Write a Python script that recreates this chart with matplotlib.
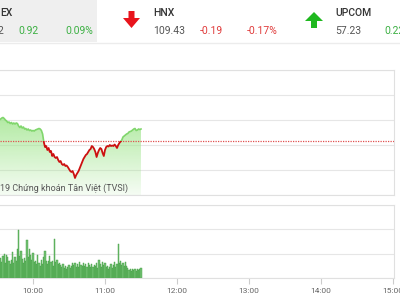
import numpy as np
import matplotlib
matplotlib.use("Agg")
import matplotlib.pyplot as plt
from matplotlib.patches import Polygon, Rectangle

plt.rcParams['font.family'] = ['Roboto', 'DejaVu Sans']

# intraday index (1 point per minute, 9:32 -> 11:30)
price = [
    981.00, 981.08, 981.16, 981.20, 981.12, 981.00, 980.92, 980.80, 980.84, 980.72,
    980.80, 980.68, 980.76, 980.68, 980.76, 980.72, 980.52, 980.40, 980.52, 980.36,
    980.44, 980.28, 980.32, 980.20, 980.28, 980.16, 980.20, 980.12, 980.16, 980.12,
    980.20, 980.24, 980.28, 980.32, 980.28, 980.16, 979.88, 979.24, 978.84, 978.92,
    978.60, 978.76, 978.44, 978.52, 978.12, 978.28, 978.04, 977.96, 978.04, 977.80,
    977.64, 977.72, 977.48, 977.40, 977.48, 977.32, 977.36, 977.24, 977.08, 976.92,
    976.84, 976.92, 976.68, 976.36, 976.60, 976.76, 976.92, 977.16, 977.40, 977.64,
    977.88, 978.04, 978.20, 978.28, 978.44, 978.60, 978.68, 978.92, 978.84, 978.68,
    978.44, 978.04, 978.36, 978.60, 978.76, 978.68, 978.36, 978.12, 978.60, 978.84,
    978.92, 978.88, 979.00, 978.92, 978.96, 978.92, 979.04, 978.92, 978.76, 979.00,
    979.16, 979.28, 979.40, 979.64, 979.72, 979.80, 979.88, 979.92, 980.04, 980.08,
    980.12, 980.20, 980.28, 980.32, 980.16, 980.20, 980.28, 980.24, 980.28,
]
volume = [
    700, 820, 650, 900, 1000, 600, 950, 880, 700, 560,
    760, 1050, 620, 850, 700, 1200, 1980, 900, 1100, 780,
    600, 820, 700, 1560, 850, 1200, 950, 760, 1040, 640,
    700, 560, 950, 600, 500, 720, 560, 870, 1100, 700,
    560, 680, 900, 640, 700, 500, 1600, 640, 760, 560,
    620, 520, 470, 560, 420, 500, 380, 460, 520, 430,
    480, 620, 520, 600, 470, 560, 440, 640, 540, 480,
    620, 500, 560, 460, 600, 520, 470, 560, 440, 520,
    480, 600, 420, 740, 560, 460, 640, 520, 600, 440,
    500, 380, 450, 580, 400, 520, 660, 470, 560, 1400,
    620, 700, 540, 600, 480, 640, 500, 420, 340, 360,
    300, 380, 320, 360, 300, 350, 320, 380, 400,
]
ref_price = 979.32
hour_ticks = [10, 11, 12, 13, 14, 15]
hour_labels = ["10:00", "11:00", "12:00", "13:00", "14:00", "15:00"]

minutes = np.arange(32, 32 + len(price))
t = 9 + minutes / 60.0
price = np.array(price)

XMIN, XMAX = 9 + 39 / 72, 9 + 433 / 72
W, H = 400, 300


def fx(x):
    return x / W


def fy(y):
    return 1 - y / H


fig = plt.figure(figsize=(4, 3), dpi=100)
fig.patch.set_facecolor("white")

# header strip
fig.add_artist(Rectangle((0, fy(42)), fx(97), 42 / H, transform=fig.transFigure,
                         color="#efefef", lw=0))
fig.add_artist(plt.Line2D([0, 1], [fy(43), fy(43)], transform=fig.transFigure,
                          color="#ececec", lw=1))

dark = "#333333"
green_t = "#3cb043"
red_t = "#e03c3c"
fs = 7.5
fig.text(fx(0), fy(13), "EX", fontsize=fs, color=dark, weight="medium", va="center")
fig.text(fx(-2), fy(31), "2", fontsize=fs, color="#555555", va="center")
fig.text(fx(18), fy(31), "0.92", fontsize=fs, color=green_t, va="center")
fig.text(fx(65), fy(31), "0.09%", fontsize=fs, color=green_t, va="center")

fig.text(fx(153), fy(13), "HNX", fontsize=fs, color=dark, weight="medium", va="center")
fig.text(fx(153), fy(31), "109.43", fontsize=fs, color="#555555", va="center")
fig.text(fx(200), fy(31), "-0.19", fontsize=fs, color=red_t, va="center")
fig.text(fx(247), fy(31), "-0.17%", fontsize=fs, color=red_t, va="center")

fig.text(fx(335), fy(13), "UPCOM", fontsize=fs, color=dark, weight="medium", va="center")
fig.text(fx(335), fy(31), "57.23", fontsize=fs, color="#555555", va="center")
fig.text(fx(384), fy(31), "0.22", fontsize=fs, color=green_t, va="center")

down = [(128.5, 11), (134.5, 11), (134.5, 18), (140, 18), (131.5, 28), (123, 18), (128.5, 18)]
up = [(311, 28), (317, 28), (317, 21), (323, 21), (314, 12), (305, 21), (311, 21)]
fig.add_artist(Polygon([(fx(a), fy(b)) for a, b in down], transform=fig.transFigure,
                       color="#e8141c", lw=0))
fig.add_artist(Polygon([(fx(a), fy(b)) for a, b in up], transform=fig.transFigure,
                       color="#1fb81f", lw=0))

# price panel
ax1 = fig.add_axes([0, fy(195), fx(394), 125 / H])
poly = ax1.fill_between(t, price, 975, color="none", lw=0)
grad = np.zeros((100, 1, 4))
grad[:, 0, :3] = matplotlib.colors.to_rgb("#9fe58c")
grad[:, 0, 3] = np.linspace(0.8, 0.1, 100)
im = ax1.imshow(grad, extent=[t[0], t[-1], 975, price.max()], aspect="auto",
                origin="upper", zorder=1)
im.set_clip_path(poly.get_paths()[0], transform=ax1.transData)

up_clip = Rectangle((XMIN, ref_price), XMAX - XMIN, 20, transform=ax1.transData)
dn_clip = Rectangle((XMIN, 960), XMAX - XMIN, ref_price - 960, transform=ax1.transData)
l1, = ax1.plot(t, price, color="#80d66c", lw=1.2, zorder=3)
l1.set_clip_path(up_clip)
l2, = ax1.plot(t, price, color="#cc1010", lw=1.3, zorder=3)
l2.set_clip_path(dn_clip)
ax1.axhline(ref_price, color="#e05050", lw=0.9, ls=(0, (1, 1)), zorder=2)

ax1.set_xlim(XMIN, XMAX)
ax1.set_ylim(975, 985)
ax1.set_yticks(np.arange(975, 986, 2))
ax1.yaxis.grid(True, color="#e6e6e6", lw=0.8)
ax1.set_axisbelow(True)
ax1.tick_params(left=False, labelleft=False, bottom=False, labelbottom=False)
ax1.spines["left"].set_visible(False)
for s in ["top", "right", "bottom"]:
    ax1.spines[s].set_color("#e0e0e0")

fig.text(fx(0), fy(188), "19 Chứng khoán Tân Việt (TVSI)", fontsize=6.5,
         color="#555555", va="center")

# volume panel
ax2 = fig.add_axes([0, fy(278), fx(394), 73 / H])
ax2.bar(t, volume, width=0.85 / 60, color="#74c274", edgecolor="#3d9a3d", lw=0.3)
ax2.set_xlim(XMIN, XMAX)
ax2.set_ylim(0, 3000)
ax2.set_yticks([0, 1000, 2000, 3000])
ax2.yaxis.grid(True, color="#e6e6e6", lw=0.8)
ax2.set_axisbelow(True)
ax2.set_xticks(hour_ticks)
ax2.set_xticklabels(hour_labels)
ax2.tick_params(axis="y", left=False, labelleft=False)
ax2.tick_params(axis="x", length=4, color="#cccccc", labelsize=6,
                labelcolor="#666666", pad=3)
ax2.spines["left"].set_visible(False)
for s in ["top", "right", "bottom"]:
    ax2.spines[s].set_color("#e0e0e0")

fig.savefig("out.png", dpi=100)
